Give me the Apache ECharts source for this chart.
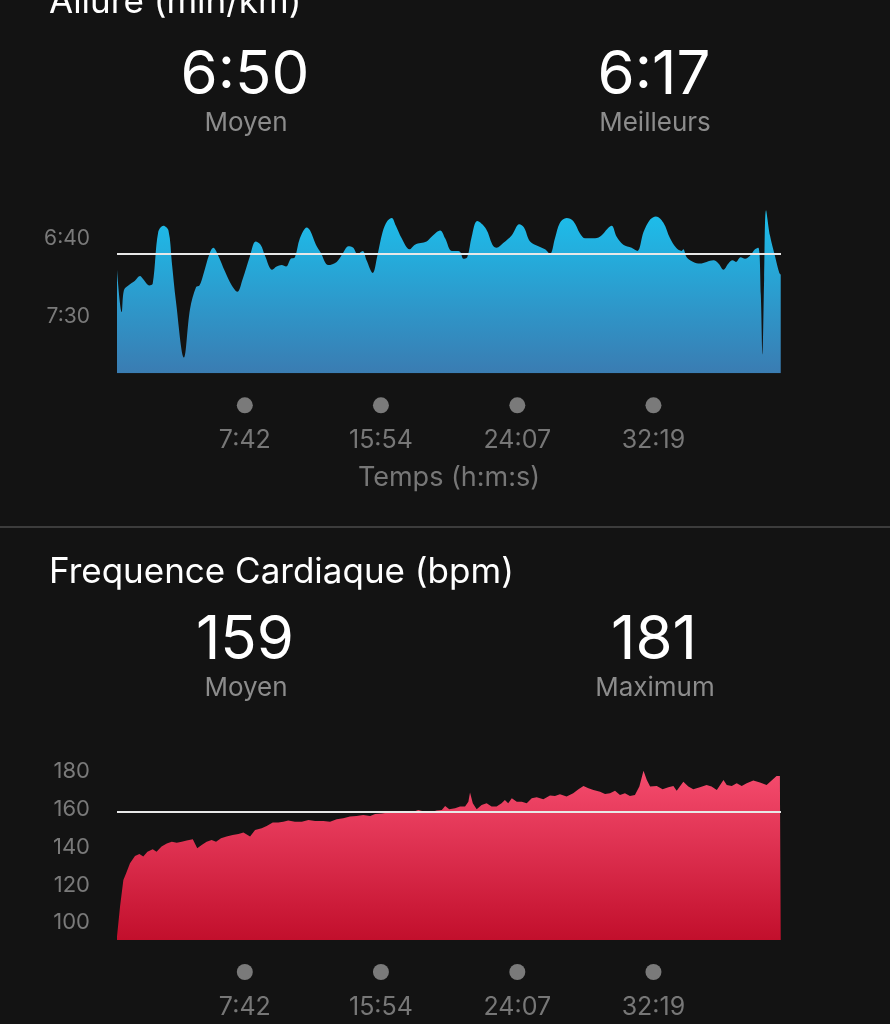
<!DOCTYPE html>
<html>
<head>
<meta charset="utf-8">
<script src="https://cdn.jsdelivr.net/npm/echarts@6/dist/echarts.min.js"></script>
<style>
html,body{margin:0;padding:0;background:#131313;}
#c{width:890px;height:1024px;}
</style>
</head>
<body>
<div id="c"></div>
<script>
// ---- Data ----
const paceTime = [0,17,25,41,65,83,95,117,129,149,168,186,198,213,242,264,286,298,312,334,348,366,390,415,435,454,481,501,519,535,561,577,595,611,628,643,661,686,698,719,736,764,794,818,836,854,869,888,902,924,941,960,977,993,1008,1029,1057,1077,1098,1119,1137,1168,1186,1210,1234,1242,1252,1266,1282,1302,1334,1357,1372,1396,1427,1454,1471,1493,1523,1547,1565,1583,1601,1625,1649,1674,1692,1710,1728,1752,1772,1788,1806,1830,1860,1881,1903,1927,1948,1975,1999,2021,2041,2047,2059,2083,2107,2131,2156,2174,2192,2210,2225,2237,2254,2270,2288,2306,2318,2327,2333,2339,2346,2360,2378,2394,2399];
const paceSec = [420,447,433,430,427,424,426,430,429,396,392,395,415,440,476,445,431,430,423,410,406,411,421,430,434,426,411,402,404,411,420,418,417,418,413,412,400,393,395,404,409,417,415,409,405,406,410,408,414,422,411,396,389,387,392,400,407,404,403,402,399,395,400,408,408,409,413,412,399,389,394,404,406,403,398,391,393,402,405,407,410,400,390,387,389,397,400,400,400,398,394,392,399,404,406,408,396,388,386,390,400,406,408,407,412,415,416,415,414,416,420,416,414,415,412,413,411,407,406,436,474,426,382,398,411,422,423];

const hrTime = [0,11,23,33,47,65,81,95,110,129,143,161,180,198,216,234,252,274,290,306,324,342,358,376,396,418,439,457,481,499,523,541,563,583,601,619,643,668,692,716,746,770,794,818,842,866,890,915,933,957,981,1011,1041,1071,1089,1113,1131,1155,1174,1186,1201,1222,1240,1258,1270,1276,1286,1300,1318,1336,1354,1372,1390,1402,1414,1427,1445,1463,1481,1499,1517,1541,1565,1583,1601,1625,1649,1668,1686,1704,1722,1746,1764,1782,1800,1818,1836,1854,1872,1888,1903,1915,1927,1951,1972,1993,2011,2023,2047,2065,2083,2107,2131,2149,2168,2180,2192,2204,2222,2240,2258,2276,2300,2324,2348,2366,2384,2396,2399];
const hrBpm = [92.6,108.5,122.6,126.2,131.5,135.3,136.4,135.0,137.6,138.9,137.6,140.3,142.0,142.9,142.4,142.9,143.5,144.2,139.4,141.2,142.9,143.8,142.9,144.7,145.6,146.5,147.0,147.7,145.6,149.1,150.0,151.2,153.0,153.0,153.5,154.1,153.5,153.5,154.4,153.9,153.9,153.5,154.8,155.3,156.2,156.5,157.1,156.5,157.6,157.9,158.3,158.5,158.5,158.8,159.7,158.8,158.3,159.4,159.7,161.8,160.1,160.6,161.5,161.5,164.1,168.9,163.2,160.1,162.4,163.2,161.5,161.5,163.2,165.0,163.2,165.9,164.1,164.1,163.2,165.9,166.4,165.4,167.4,167.1,168.0,166.8,168.5,170.7,172.4,171.2,170.3,169.4,168.2,168.5,169.9,167.7,168.5,167.1,167.7,172.1,180.5,175.6,172.1,172.4,170.7,171.7,172.4,169.9,174.7,172.1,170.7,171.7,172.9,172.1,170.3,172.9,175.6,172.9,172.4,173.8,172.4,173.8,175.3,174.2,172.9,175.3,177.7,177.7,177.4];

const timeTicks = [462, 954, 1447, 1939];
const paceTicks = [400, 450];
const hrTicks = [100, 120, 140, 160, 180];
const paceAvg = 410;   // 6:50
const paceBest = 377;  // 6:17
const hrAvg = 159;
const hrMax = 181;
const titles = ['Allure (min/km)', 'Frequence Cardiaque (bpm)'];
const statLabels = ['Moyen', 'Meilleurs', 'Moyen', 'Maximum'];
const xName = 'Temps (h:m:s)';

// ---- Helpers ----
const FONT = 'Inter, "Noto Sans", sans-serif';
function mmss(v){ v = Math.round(v); const m = Math.floor(v/60), s = v%60; return m + ':' + (s<10?'0':'') + s; }
function zip(a,b){ return a.map((x,i)=>[x,b[i]]); }

const chart = echarts.init(document.getElementById('c'), null, {renderer:'canvas'});

function makeXAxis(extra){
  return Object.assign({
    type:'value', min:0, max:2400,
    axisLine:{show:false}, axisTick:{show:false}, splitLine:{show:false},
    axisLabel:{
      customValues: timeTicks,
      margin: 20,
      formatter: v => '{dot| }\n{t|' + mmss(v) + '}',
      rich:{
        dot:{width:16,height:16,backgroundColor:'#7a7a7a',borderRadius:8,lineHeight:24,align:'center'},
        t:{fontSize:25,color:'#777777',fontFamily:FONT,lineHeight:46,align:'center'}
      }
    }
  }, extra);
}

const option = {
  backgroundColor:'#131313',
  animation:false,
  grid:[
    {left:117, width:664, top:191.3, height:182},
    {left:117, width:664, top:752.8, height:187.2}
  ],
  xAxis:[
    makeXAxis({gridIndex:0, name:xName, nameLocation:'middle', nameGap:91,
      nameTextStyle:{color:'#777777',fontSize:27,fontFamily:FONT}}),
    makeXAxis({gridIndex:1})
  ],
  yAxis:[
    {gridIndex:0, type:'value', inverse:true, min:370, max:486,
      axisLine:{show:false}, axisTick:{show:false}, splitLine:{show:false},
      axisLabel:{customValues:paceTicks, formatter:v=>mmss(v), color:'#7a7a7a', fontSize:21, fontFamily:FONT, margin:27}},
    {gridIndex:1, type:'value', min:90.8, max:190,
      axisLine:{show:false}, axisTick:{show:false}, splitLine:{show:false},
      axisLabel:{customValues:hrTicks, color:'#7a7a7a', fontSize:22, fontFamily:FONT, margin:27}}
  ],
  series:[
    {type:'line', xAxisIndex:0, yAxisIndex:0, data:zip(paceTime,paceSec), smooth:0.35, symbol:'none',
      lineStyle:{width:0},
      areaStyle:{origin:'end', opacity:1, color:new echarts.graphic.LinearGradient(0,0,0,1,[{offset:0,color:'#1cbfec'},{offset:1,color:'#3a7cb2'}])},
      markLine:{silent:true, symbol:'none', label:{show:false}, lineStyle:{color:'#e8e8e8',width:2,type:'solid'}, data:[{yAxis:paceAvg}]}},
    {type:'line', xAxisIndex:1, yAxisIndex:1, data:zip(hrTime,hrBpm), smooth:false, symbol:'none',
      lineStyle:{width:0},
      areaStyle:{origin:'start', opacity:1, color:new echarts.graphic.LinearGradient(0,0,0,1,[{offset:0,color:'#f54c6e'},{offset:1,color:'#c20f2c'}])},
      markLine:{silent:true, symbol:'none', label:{show:false}, lineStyle:{color:'#e8e8e8',width:2,type:'solid'}, data:[{yAxis:hrAvg}]}}
  ],
  graphic:[
    {type:'text', x:49, y:2, style:{text:titles[0], fill:'#ffffff', font:'35px '+FONT, verticalAlign:'middle'}},
    {type:'text', x:245, y:76, style:{text:mmss(paceAvg), fill:'#ffffff', font:'60px '+FONT, align:'center', verticalAlign:'middle'}},
    {type:'text', x:654, y:76, style:{text:mmss(paceBest), fill:'#ffffff', font:'60px '+FONT, align:'center', verticalAlign:'middle'}},
    {type:'text', x:246, y:123, style:{text:statLabels[0], fill:'#8c8c8c', font:'26px '+FONT, align:'center', verticalAlign:'middle'}},
    {type:'text', x:655, y:123, style:{text:statLabels[1], fill:'#8c8c8c', font:'26px '+FONT, align:'center', verticalAlign:'middle'}},
    {type:'rect', shape:{x:0, y:526, width:890, height:2}, style:{fill:'#3c3c3c'}},
    {type:'text', x:49, y:572, style:{text:titles[1], fill:'#ffffff', font:'35px '+FONT, verticalAlign:'middle'}},
    {type:'text', x:245, y:641, style:{text:String(hrAvg), fill:'#ffffff', font:'60px '+FONT, align:'center', verticalAlign:'middle'}},
    {type:'text', x:654, y:641, style:{text:String(hrMax), fill:'#ffffff', font:'60px '+FONT, align:'center', verticalAlign:'middle'}},
    {type:'text', x:246, y:688, style:{text:statLabels[2], fill:'#8c8c8c', font:'26px '+FONT, align:'center', verticalAlign:'middle'}},
    {type:'text', x:655, y:688, style:{text:statLabels[3], fill:'#8c8c8c', font:'26px '+FONT, align:'center', verticalAlign:'middle'}}
  ]
};
chart.setOption(option);
</script>
</body>
</html>
